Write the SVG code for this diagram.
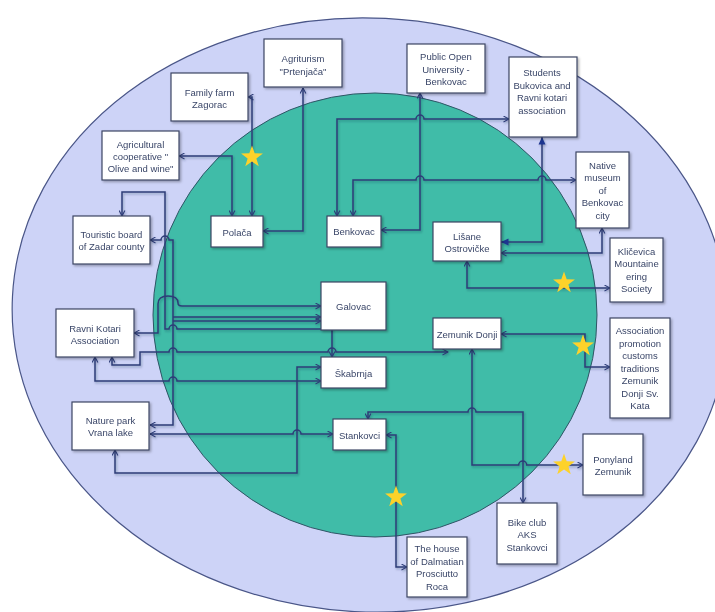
<svg xmlns="http://www.w3.org/2000/svg" width="715" height="612" viewBox="0 0 715 612">
<defs>
<filter id="sh" x="-20%" y="-20%" width="140%" height="140%"><feDropShadow dx="1.5" dy="1.5" stdDeviation="1" flood-color="#000" flood-opacity="0.3"/></filter>
<filter id="lsh" x="-5%" y="-5%" width="110%" height="110%"><feDropShadow dx="1" dy="1.5" stdDeviation="1" flood-color="#1a2540" flood-opacity="0.35"/></filter>
<marker id="a" viewBox="0 0 7 7" refX="6.5" refY="3.5" markerWidth="7" markerHeight="7" markerUnits="userSpaceOnUse" orient="auto-start-reverse"><path d="M1,0.6 L6.5,3.5 L1,6.4" fill="none" stroke="#2d3c78" stroke-width="1.1"/></marker>
<marker id="af" viewBox="0 0 8 8" refX="7.5" refY="4" markerWidth="8" markerHeight="8" markerUnits="userSpaceOnUse" orient="auto-start-reverse"><path d="M0,0.5 L7.5,4 L0,7.5 z" fill="#1f3590"/></marker>
<polygon id="star" points="0,-11.5 2.7,-3.72 10.94,-3.55 4.37,1.42 6.76,9.3 0,4.6 -6.76,9.3 -4.37,1.42 -10.94,-3.55 -2.7,-3.72" fill="#fdd22a"/>
</defs>
<style>
.box rect{fill:#ffffff;stroke:#3c4664;stroke-width:1.2}
.box text{font-family:"Liberation Sans",Arial,sans-serif;font-size:9.5px;fill:#3a4668;text-anchor:middle}
.c path{fill:none;stroke:#2d3c78;stroke-width:1.5;marker-start:url(#a);marker-end:url(#a)}
.c path.e{marker-start:none}
.c path.f{marker-start:url(#af);marker-end:url(#af);stroke:#2d3c78}
</style>
<ellipse cx="370" cy="315" rx="358" ry="297" transform="rotate(3 370 315)" fill="#cdd3f7" stroke="#4a5688" stroke-width="1.2"/>
<circle cx="375" cy="315" r="222" fill="#40bca8" stroke="#2f5566" stroke-width="1"/>
<g id="connectors" class="c" filter="url(#lsh)">
<path d="M252,216 L252,97 L248,97"/>
<path d="M232,216 L232,156 L179,156"/>
<path d="M263,231 L303,231 L303,88"/>
<path d="M122,216 L122,192 L165,192 L165,329 L169,329 A4,4 0 0 1 177,329 L332,329 L332,357"/>
<path d="M150,240 L161,240 A4,4 0 0 1 169,240 L173,240 L173,425 L150,425"/>
<path d="M134,333 L158,333 L158,304 Q158,296 168,296 Q178,296 178,303 Q178,306 182,306 L321,306"/>
<path class="e" d="M173,317 L321,317"/>
<path class="e" d="M173,321 L321,321"/>
<path d="M112,357 L112,365 L140,365 L140,352 L169,352 A4,4 0 0 1 177,352 L328,352 A4,4 0 0 1 336,352 L448,352"/>
<path d="M95,357 L95,381 L169,381 A4,4 0 0 1 177,381 L321,381"/>
<path d="M321,367 L297,367 L297,473 L115,473 L115,450"/>
<path d="M150,434 L293,434 A4,4 0 0 1 301,434 L333,434"/>
<path d="M381,230 L420,230 L420,93"/>
<path d="M337,216 L337,119 L416,119 A4,4 0 0 1 424,119 L509,119"/>
<path d="M353,216 L353,180 L416,180 A4,4 0 0 1 424,180 L538,180 A4,4 0 0 1 546,180 L576,180"/>
<path class="f" d="M542,137 L542,242 L501,242"/>
<path d="M602,228 L602,253 L501,253"/>
<path d="M467,261 L467,288 L610,288"/>
<path d="M501,334 L585,334 L585,367 L610,367"/>
<path d="M472,349 L472,465 L518.7,465 A4,4 0 0 1 526.7,465 L583,465"/>
<path d="M368,419 L368,412 L468,412 A4,4 0 0 1 476,412 L523,412 L523,503"/>
<path d="M386,435 L396,435 L396,567 L407,567"/>
</g>
<g id="farm" class="box" filter="url(#sh)"><rect x="171" y="73" width="77" height="48"/><text x="209.5" y="95.5">Family farm</text><text x="209.5" y="108">Zagorac</text></g>
<g id="agriturism" class="box" filter="url(#sh)"><rect x="264" y="39" width="78" height="48"/><text x="303" y="61.5">Agriturism</text><text x="303" y="75">"Prtenjača"</text></g>
<g id="coop" class="box" filter="url(#sh)"><rect x="102" y="131" width="77" height="49"/><text x="140.5" y="147.5">Agricultural</text><text x="140.5" y="160">cooperative "</text><text x="140.5" y="171.5">Olive and wine"</text></g>
<g id="touristic" class="box" filter="url(#sh)"><rect x="73" y="216" width="77" height="48"/><text x="111.5" y="237.5">Touristic board</text><text x="111.5" y="250">of Zadar county</text></g>
<g id="polaca" class="box" filter="url(#sh)"><rect x="211" y="216" width="52" height="31"/><text x="237" y="235.5">Polača</text></g>
<g id="benkovac" class="box" filter="url(#sh)"><rect x="327" y="216" width="54" height="31"/><text x="354" y="235">Benkovac</text></g>
<g id="pou" class="box" filter="url(#sh)"><rect x="407" y="44" width="78" height="49"/><text x="446" y="59.5">Public Open</text><text x="446" y="72.5">University -</text><text x="446" y="85">Benkovac</text></g>
<g id="students" class="box" filter="url(#sh)"><rect x="509" y="57" width="68" height="80"/><text x="542" y="76">Students</text><text x="542" y="88.5">Bukovica and</text><text x="542" y="101">Ravni kotari</text><text x="542" y="113.5">association</text></g>
<g id="museum" class="box" filter="url(#sh)"><rect x="576" y="152" width="53" height="76"/><text x="602.5" y="168.5">Native</text><text x="602.5" y="181">museum</text><text x="602.5" y="193.5">of</text><text x="602.5" y="206">Benkovac</text><text x="602.5" y="218.5">city</text></g>
<g id="lisane" class="box" filter="url(#sh)"><rect x="433" y="222" width="68" height="39"/><text x="467" y="239.5">Lišane</text><text x="467" y="252">Ostrovičke</text></g>
<g id="klicevica" class="box" filter="url(#sh)"><rect x="610" y="238" width="53" height="64"/><text x="636.5" y="254.5">Kličevica</text><text x="636.5" y="267">Mountaine</text><text x="636.5" y="279.5">ering</text><text x="636.5" y="292">Society</text></g>
<g id="galovac" class="box" filter="url(#sh)"><rect x="321" y="282" width="65" height="48"/><text x="353.5" y="309.5">Galovac</text></g>
<g id="zemunik" class="box" filter="url(#sh)"><rect x="433" y="318" width="68" height="31"/><text x="467" y="337.5">Zemunik Donji</text></g>
<g id="skabrnja" class="box" filter="url(#sh)"><rect x="321" y="357" width="65" height="31"/><text x="353.5" y="376.5">Škabrnja</text></g>
<g id="association" class="box" filter="url(#sh)"><rect x="610" y="318" width="60" height="100"/><text x="640" y="334">Association</text><text x="640" y="346.5">promotion</text><text x="640" y="359">customs</text><text x="640" y="371.5">traditions</text><text x="640" y="384">Zemunik</text><text x="640" y="396.5">Donji Sv.</text><text x="640" y="409">Kata</text></g>
<g id="ravni" class="box" filter="url(#sh)"><rect x="56" y="309" width="78" height="48"/><text x="95" y="331.5">Ravni Kotari</text><text x="95" y="343.5">Association</text></g>
<g id="nature" class="box" filter="url(#sh)"><rect x="72" y="402" width="77" height="48"/><text x="110.5" y="423.5">Nature park</text><text x="110.5" y="436">Vrana lake</text></g>
<g id="stankovci" class="box" filter="url(#sh)"><rect x="333" y="419" width="53" height="31"/><text x="359.5" y="439">Stankovci</text></g>
<g id="ponyland" class="box" filter="url(#sh)"><rect x="583" y="434" width="60" height="61"/><text x="613" y="462.5">Ponyland</text><text x="613" y="475">Zemunik</text></g>
<g id="bike" class="box" filter="url(#sh)"><rect x="497" y="503" width="60" height="61"/><text x="527" y="525.5">Bike club</text><text x="527" y="538">AKS</text><text x="527" y="550.5">Stankovci</text></g>
<g id="house" class="box" filter="url(#sh)"><rect x="407" y="537" width="60" height="60"/><text x="437" y="551.5">The house</text><text x="437" y="565">of Dalmatian</text><text x="437" y="577">Prosciutto</text><text x="437" y="589.5">Roca</text></g>
<g id="stars">
<use href="#star" x="252" y="157"/>
<use href="#star" x="564" y="283"/>
<use href="#star" x="583" y="346"/>
<use href="#star" x="564" y="465"/>
<use href="#star" x="396" y="497"/>
</g>
</svg>
